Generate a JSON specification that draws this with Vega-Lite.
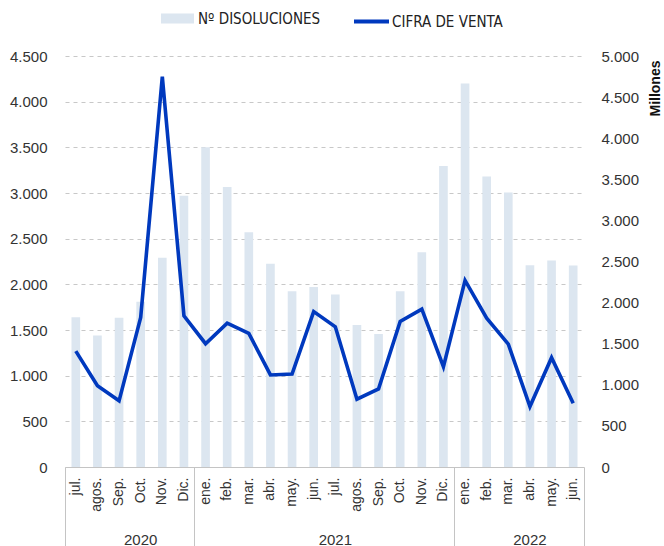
{
  "$schema": "https://vega.github.io/schema/vega-lite/v6.json",
  "width": 519,
  "height": 411,
  "autosize": {"type": "none"},
  "padding": {"left": 65, "top": 56, "right": 80, "bottom": 79},
  "background": "white",
  "config": {
    "view": {"stroke": null},
    "axis": {"labelFont": "Liberation Sans", "titleFont": "Liberation Sans", "labelColor": "#333333"}
  },
  "data": {
    "values": [
      {"k": "2020|jul.", "n": 1640, "v": 1410},
      {"k": "2020|agos.", "n": 1440, "v": 990},
      {"k": "2020|Sep.", "n": 1635, "v": 805},
      {"k": "2020|Oct.", "n": 1810, "v": 1820},
      {"k": "2020|Nov.", "n": 2290, "v": 4750},
      {"k": "2020|Dic.", "n": 2970, "v": 1840},
      {"k": "2021|ene.", "n": 3500, "v": 1500},
      {"k": "2021|feb.", "n": 3065, "v": 1750},
      {"k": "2021|mar.", "n": 2570, "v": 1625},
      {"k": "2021|abr.", "n": 2225, "v": 1120},
      {"k": "2021|may.", "n": 1925, "v": 1130},
      {"k": "2021|jun.", "n": 1970, "v": 1890},
      {"k": "2021|jul.", "n": 1890, "v": 1705},
      {"k": "2021|agos.", "n": 1555, "v": 825},
      {"k": "2021|Sep.", "n": 1455, "v": 950},
      {"k": "2021|Oct.", "n": 1925, "v": 1770},
      {"k": "2021|Nov.", "n": 2350, "v": 1920},
      {"k": "2021|Dic.", "n": 3295, "v": 1220},
      {"k": "2022|ene.", "n": 4200, "v": 2270},
      {"k": "2022|feb.", "n": 3180, "v": 1810},
      {"k": "2022|mar.", "n": 3005, "v": 1495},
      {"k": "2022|abr.", "n": 2210, "v": 735},
      {"k": "2022|may.", "n": 2260, "v": 1330},
      {"k": "2022|jun.", "n": 2205, "v": 775}
    ]
  },
  "layer": [
    {
      "mark": {"type": "bar", "width": {"band": 0.4}},
      "encoding": {
        "x": {
          "field": "k", "type": "ordinal", "sort": null,
          "scale": {"paddingInner": 0, "paddingOuter": 0},
          "axis": {
            "orient": "bottom", "title": null, "grid": false, "ticks": false,
            "domain": true, "domainColor": "#c4c4c4", "domainWidth": 1,
            "labelAngle": -90, "labelAlign": "right", "labelBaseline": "middle",
            "labelPadding": 10, "labelFontSize": 14, "labelColor": "#333333",
            "labelExpr": "split(datum.value, '|')[1]"
          }
        },
        "y": {
          "field": "n", "type": "quantitative",
          "scale": {"domain": [0, 4500], "nice": false},
          "axis": {
            "orient": "left", "title": null, "domain": false, "ticks": false,
            "values": [0, 500, 1000, 1500, 2000, 2500, 3000, 3500, 4000, 4500],
            "grid": true, "gridColor": "#c8c8c8", "gridDash": [4, 4], "gridWidth": 1.2,
            "labelPadding": 18, "labelFontSize": 15,
            "labelExpr": "replace(format(datum.value, ','), ',', '.')"
          }
        },
        "fill": {
          "datum": "Nº DISOLUCIONES",
          "scale": {"range": ["#dce6f0"]},
          "legend": {
            "title": null, "orient": "none", "legendX": 96, "legendY": -54,
            "symbolType": "M-1,-0.3H1V0.3H-1Z", "symbolSize": 1089,
            "symbolStrokeWidth": 0,
            "labelFont": "DejaVu Sans Condensed, Liberation Sans, sans-serif", "labelFontSize": 15,
            "labelColor": "#222222", "labelOffset": 4
          }
        }
      }
    },
    {
      "mark": {"type": "line", "strokeWidth": 3.6, "strokeJoin": "miter"},
      "encoding": {
        "x": {
          "field": "k", "type": "ordinal", "sort": null,
          "axis": {
            "orient": "bottom", "title": null, "grid": false, "ticks": false, "domain": false,
            "bandPosition": 0,
            "values": ["2020|Oct.", "2021|jul.", "2022|abr."],
            "labelAngle": 0, "labelAlign": "center", "labelBaseline": "top",
            "labelPadding": 65, "labelFontSize": 15, "labelColor": "#333333",
            "labelExpr": "split(datum.value, '|')[0]"
          }
        },
        "y": {
          "field": "v", "type": "quantitative",
          "scale": {"domain": [0, 5000], "nice": false},
          "axis": {
            "orient": "right", "domain": false, "ticks": false, "grid": false,
            "values": [0, 500, 1000, 1500, 2000, 2500, 3000, 3500, 4000, 4500, 5000],
            "labelPadding": 17, "labelFontSize": 15,
            "labelExpr": "replace(format(datum.value, ','), ',', '.')",
            "title": "Millones", "titleFontSize": 14, "titleFontWeight": "bold",
            "titleColor": "#111111", "titleAngle": -90, "titleAlign": "right",
            "titleBaseline": "middle", "titleX": 71, "titleY": 4
          }
        },
        "stroke": {
          "datum": "CIFRA DE VENTA",
          "scale": {"range": ["#0039be"]},
          "legend": {
            "title": null, "orient": "none", "legendX": 287, "legendY": -54,
            "symbolType": "stroke", "symbolSize": 1225, "symbolStrokeWidth": 4,
            "labelFont": "DejaVu Sans Condensed, Liberation Sans, sans-serif", "labelFontSize": 15,
            "labelColor": "#222222", "labelOffset": 1
          }
        }
      }
    },
    {
      "mark": {"type": "rule", "strokeOpacity": 0},
      "encoding": {
        "x": {
          "field": "k", "type": "ordinal", "sort": null,
          "axis": {
            "orient": "bottom", "title": null, "grid": false, "domain": false, "labels": false,
            "bandPosition": 0,
            "values": ["2020|jul.", "2021|ene.", "2022|ene."],
            "ticks": true, "tickSize": 79, "tickColor": "#c4c4c4", "tickWidth": 1
          }
        }
      }
    },
    {
      "mark": {"type": "rule", "strokeOpacity": 0},
      "encoding": {
        "x": {
          "field": "k", "type": "ordinal", "sort": null,
          "axis": {
            "orient": "bottom", "title": null, "grid": false, "domain": false, "labels": false,
            "bandPosition": 1,
            "values": ["2022|jun."],
            "ticks": true, "tickSize": 79, "tickColor": "#c4c4c4", "tickWidth": 1
          }
        }
      }
    }
  ],
  "resolve": {
    "scale": {"y": "independent"},
    "axis": {"x": "independent", "y": "independent"}
  }
}
